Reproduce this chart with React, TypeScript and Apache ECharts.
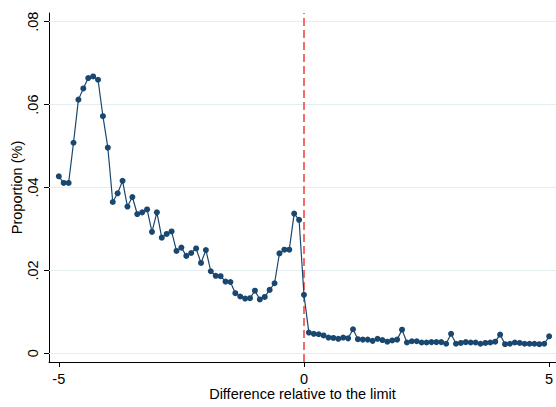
import React, { useEffect, useRef } from "react";
import * as echarts from "echarts";

const xValues = [
  -5.0, -4.9, -4.8, -4.7, -4.6, -4.5, -4.4, -4.3, -4.2, -4.1,
  -4.0, -3.9, -3.8, -3.7, -3.6, -3.5, -3.4, -3.3, -3.2, -3.1,
  -3.0, -2.9, -2.8, -2.7, -2.6, -2.5, -2.4, -2.3, -2.2, -2.1,
  -2.0, -1.9, -1.8, -1.7, -1.6, -1.5, -1.4, -1.3, -1.2, -1.1,
  -1.0, -0.9, -0.8, -0.7, -0.6, -0.5, -0.4, -0.3, -0.2, -0.1,
  0.0, 0.1, 0.2, 0.3, 0.4, 0.5, 0.6, 0.7, 0.8, 0.9,
  1.0, 1.1, 1.2, 1.3, 1.4, 1.5, 1.6, 1.7, 1.8, 1.9,
  2.0, 2.1, 2.2, 2.3, 2.4, 2.5, 2.6, 2.7, 2.8, 2.9,
  3.0, 3.1, 3.2, 3.3, 3.4, 3.5, 3.6, 3.7, 3.8, 3.9,
  4.0, 4.1, 4.2, 4.3, 4.4, 4.5, 4.6, 4.7, 4.8, 4.9,
  5.0,
];

const proportion = [
  0.0427, 0.0411, 0.0411, 0.0508, 0.0612, 0.0639, 0.0664, 0.0668, 0.0660, 0.0572,
  0.0496, 0.0365, 0.0386, 0.0416, 0.0354, 0.0377, 0.0336, 0.0340, 0.0347, 0.0293,
  0.0340, 0.0279, 0.0288, 0.0294, 0.0247, 0.0255, 0.0235, 0.0242, 0.0253, 0.0218,
  0.0249, 0.0198, 0.0187, 0.0186, 0.0173, 0.0172, 0.0145, 0.0137, 0.0132, 0.0133,
  0.0151, 0.0130, 0.0136, 0.0153, 0.0169, 0.0241, 0.0250, 0.0250, 0.0337, 0.0322,
  0.0141, 0.0050, 0.0047, 0.0046, 0.0043, 0.0038, 0.0037, 0.0035, 0.0038, 0.0036,
  0.0058, 0.0034, 0.0033, 0.0033, 0.0030, 0.0035, 0.0032, 0.0028, 0.0031, 0.0033,
  0.0057, 0.0026, 0.0029, 0.0029, 0.0026, 0.0026, 0.0027, 0.0027, 0.0027, 0.0023,
  0.0047, 0.0023, 0.0025, 0.0027, 0.0026, 0.0026, 0.0023, 0.0025, 0.0026, 0.0028,
  0.0045, 0.0022, 0.0023, 0.0026, 0.0025, 0.0023, 0.0023, 0.0023, 0.0022, 0.0023,
  0.0041,
];

const xTicks = [-5, 0, 5];
const yTicks = [0, 0.02, 0.04, 0.06, 0.08];
const limitX = 0;

const xTitle = "Difference relative to the limit";
const yTitle = "Proportion (%)";

const FONT = "Liberation Sans, Arial, Helvetica, sans-serif";

export default function App() {
  const ref = useRef<HTMLDivElement>(null);
  useEffect(() => {
    if (!ref.current) return;
    const chart = echarts.init(ref.current, null, { renderer: "svg" });
    const data = xValues.map((x, i) => [x, proportion[i]]);
    chart.setOption({
      animation: false,
      backgroundColor: "#ffffff",
      grid: {
        left: 49,
        right: 0,
        top: 13,
        bottom: 45,
        containLabel: false,
        outerBoundsMode: "none",
      },
      xAxis: {
        type: "value",
        min: -5.2,
        max: 5.14,
        name: xTitle,
        nameLocation: "middle",
        nameGap: 24,
        nameMoveOverlap: false,
        nameTextStyle: { fontFamily: FONT, fontSize: 14.5, color: "#000" },
        axisLine: { show: true, onZero: false, lineStyle: { color: "#000", width: 1 } },
        axisTick: { show: true, length: 5, customValues: xTicks, lineStyle: { color: "#000" } },
        axisLabel: {
          customValues: xTicks,
          fontFamily: FONT,
          fontSize: 14.5,
          color: "#000",
          margin: 9,
          formatter: (v: number) => String(v),
        },
        splitLine: { show: false },
      },
      yAxis: {
        type: "value",
        min: -0.0021,
        max: 0.0821,
        name: yTitle,
        nameLocation: "middle",
        nameGap: 25,
        nameMoveOverlap: false,
        nameRotate: 90,
        nameTextStyle: { fontFamily: FONT, fontSize: 14.5, color: "#000" },
        axisLine: { show: true, onZero: false, lineStyle: { color: "#000", width: 1 } },
        axisTick: { show: true, length: 5, customValues: yTicks, lineStyle: { color: "#000" } },
        axisLabel: {
          customValues: yTicks,
          rotate: 90,
          fontFamily: FONT,
          fontSize: 14.5,
          color: "#000",
          margin: 9,
          formatter: (v: number) => (Math.abs(v) < 1e-9 ? "0" : v.toFixed(2).replace(/^0/, "")),
        },
        splitLine: { show: false },
      },
      series: [
        {
          type: "line",
          data: [],
          silent: true,
          z: 1,
          markLine: {
            silent: true,
            z: 1,
            symbol: "none",
            label: { show: false },
            animation: false,
            data: [
              ...yTicks.map((v) => ({
                yAxis: v,
                lineStyle: { color: "#e4eef0", width: 1, type: "solid" },
              })),
              {
                xAxis: limitX,
                lineStyle: { color: "#f24a4a", width: 1.6, type: [8, 4] },
              },
            ],
          },
        },
        {
          type: "line",
          data,
          z: 3,
          symbol: "circle",
          symbolSize: 6,
          showAllSymbol: true,
          lineStyle: { color: "#1a476f", width: 1.2 },
          itemStyle: { color: "#1a476f" },
        },
      ],
    });
    return () => chart.dispose();
  }, []);
  return (
    <div
      ref={ref}
      style={{ position: "fixed", left: 0, top: 0, width: 556, height: 407 }}
    />
  );
}
